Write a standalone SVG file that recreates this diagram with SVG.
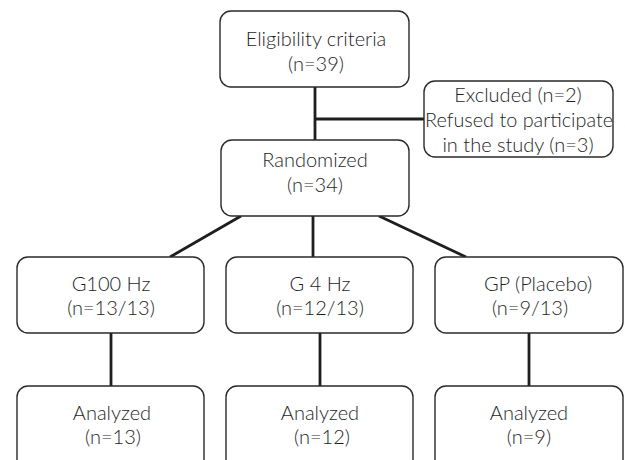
<svg xmlns="http://www.w3.org/2000/svg" width="625" height="460" viewBox="0 0 625 460">
<style>
.box{fill:#fff;stroke:#2a2a2a;stroke-width:1.4}
.t{font-family:Lato,"Liberation Sans",sans-serif;font-weight:300;font-size:20px;fill:#1e1e1e;text-anchor:middle}
.c{stroke:#1e1e1e;stroke-width:2.8;fill:none}
</style>
<rect width="625" height="460" fill="#fff"/>
<g id="connectors">
<line class="c" x1="315" y1="87" x2="315" y2="140"/>
<line class="c" x1="315" y1="119" x2="424" y2="119"/>
<line class="c" x1="241" y1="216" x2="170" y2="257"/>
<line class="c" x1="313" y1="216" x2="313" y2="257"/>
<line class="c" x1="379" y1="216" x2="466" y2="257"/>
<line class="c" x1="111" y1="333" x2="111" y2="386"/>
<line class="c" x1="320" y1="333" x2="320" y2="386"/>
<line class="c" x1="529" y1="333" x2="529" y2="386"/>
</g>
<g id="eligibility">
<rect class="box" x="220" y="11" width="189" height="76" rx="11"/>
<text class="t" x="316" y="46">Eligibility criteria</text>
<text class="t" x="316" y="71">(n=39)</text>
</g>
<g id="excluded">
<rect class="box" x="424" y="81" width="189" height="76" rx="11"/>
<text class="t" x="518" y="102">Excluded (n=2)</text>
<text class="t" x="519" y="127" textLength="188" lengthAdjust="spacingAndGlyphs">Refused to participate</text>
<text class="t" x="518" y="152">in the study (n=3)</text>
</g>
<g id="randomized">
<rect class="box" x="221" y="140" width="188" height="76" rx="11"/>
<text class="t" x="315" y="167">Randomized</text>
<text class="t" x="315" y="192">(n=34)</text>
</g>
<g id="g100">
<rect class="box" x="17" y="257" width="187" height="76" rx="11"/>
<text class="t" x="111" y="291">G100 Hz</text>
<text class="t" x="111" y="315">(n=13/13)</text>
</g>
<g id="g4">
<rect class="box" x="226" y="257" width="187" height="76" rx="11"/>
<text class="t" x="320" y="291">G 4 Hz</text>
<text class="t" x="320" y="315">(n=12/13)</text>
</g>
<g id="gp">
<rect class="box" x="435" y="257" width="188" height="76" rx="11"/>
<text class="t" x="538" y="291">GP (Placebo)</text>
<text class="t" x="530" y="315">(n=9/13)</text>
</g>
<g id="a100">
<rect class="box" x="17" y="386" width="187" height="90" rx="11"/>
<text class="t" x="112" y="420">Analyzed</text>
<text class="t" x="113" y="444">(n=13)</text>
</g>
<g id="a4">
<rect class="box" x="226" y="386" width="187" height="90" rx="11"/>
<text class="t" x="320" y="420">Analyzed</text>
<text class="t" x="322" y="444">(n=12)</text>
</g>
<g id="ap">
<rect class="box" x="435" y="386" width="188" height="90" rx="11"/>
<text class="t" x="529" y="420">Analyzed</text>
<text class="t" x="529" y="444">(n=9)</text>
</g>
</svg>
